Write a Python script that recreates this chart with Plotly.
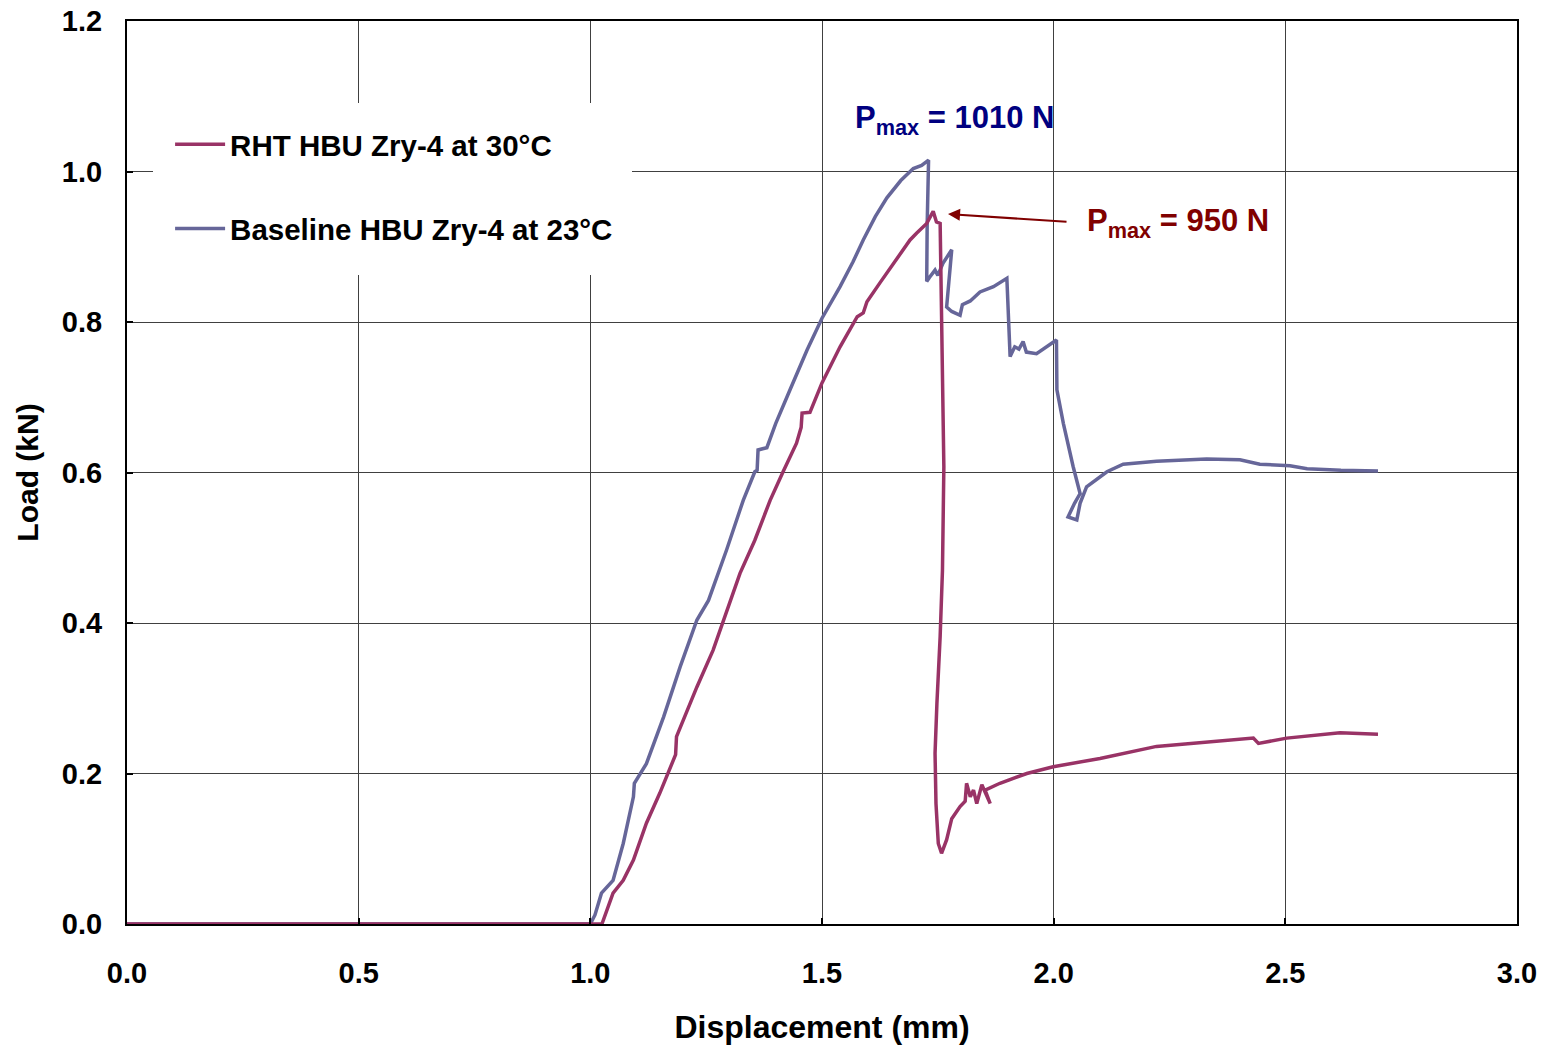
import plotly.graph_objects as go

# Baseline HBU Zry-4 at 23°C (displacement mm, load kN)
base_x = [0.0, 1.0, 1.01, 1.024, 1.049, 1.071, 1.093, 1.095, 1.121, 1.158, 1.194, 1.23, 1.255,
          1.294, 1.33, 1.355, 1.36, 1.362, 1.381, 1.40, 1.431, 1.468, 1.5, 1.539, 1.567, 1.589,
          1.615, 1.64, 1.67, 1.697, 1.715, 1.73, 1.727, 1.726, 1.733, 1.744, 1.75, 1.761, 1.78,
          1.769, 1.78, 1.798, 1.803, 1.82, 1.841, 1.87, 1.899, 1.902, 1.906, 1.916, 1.925,
          1.934, 1.941, 1.963, 2.006, 2.007, 2.021, 2.042, 2.057, 2.045, 2.031, 2.05, 2.057,
          2.071, 2.1, 2.115, 2.15, 2.222, 2.33, 2.402, 2.445, 2.51, 2.547, 2.62, 2.70]
base_y = [0.0, 0.0, 0.012, 0.041, 0.058, 0.107, 0.169, 0.187, 0.213, 0.275, 0.342, 0.404, 0.43,
          0.497, 0.563, 0.601, 0.603, 0.63, 0.633, 0.665, 0.71, 0.763, 0.805, 0.847, 0.88, 0.909,
          0.94, 0.965, 0.988, 1.004, 1.008, 1.015, 0.93, 0.854, 0.86, 0.869, 0.862, 0.878, 0.896,
          0.82, 0.814, 0.809, 0.823, 0.828, 0.84, 0.847, 0.858, 0.80, 0.754, 0.767, 0.764,
          0.774, 0.76, 0.758, 0.776, 0.71, 0.665, 0.608, 0.572, 0.559, 0.541, 0.537, 0.559,
          0.581, 0.594, 0.601, 0.611, 0.615, 0.618, 0.617, 0.611, 0.609, 0.605, 0.603, 0.602]

# RHT HBU Zry-4 at 30°C
rht_x = [0.0, 1.025, 1.049, 1.071, 1.093, 1.121, 1.15, 1.172, 1.184, 1.186, 1.23, 1.265,
         1.287, 1.323, 1.355, 1.388, 1.416, 1.445, 1.455, 1.457, 1.474, 1.5, 1.539, 1.576,
         1.589, 1.597, 1.625, 1.662, 1.69, 1.704, 1.726, 1.74, 1.747, 1.755, 1.756, 1.759, 1.763,
         1.76, 1.755, 1.748, 1.744, 1.746, 1.751, 1.758, 1.769, 1.78, 1.798, 1.809, 1.812, 1.82,
         1.827, 1.834, 1.845, 1.863, 1.852, 1.884, 1.942, 1.999, 2.1, 2.222, 2.33, 2.431, 2.442,
         2.503, 2.618, 2.70]
rht_y = [0.0, 0.0, 0.041, 0.058, 0.085, 0.134, 0.174, 0.209, 0.225, 0.249, 0.315, 0.364,
         0.404, 0.466, 0.51, 0.563, 0.601, 0.639, 0.66, 0.679, 0.68, 0.719, 0.767, 0.807,
         0.812, 0.827, 0.852, 0.885, 0.909, 0.918, 0.931, 0.947, 0.933, 0.931, 0.887, 0.798, 0.608,
         0.47, 0.382, 0.293, 0.227, 0.16, 0.107, 0.094, 0.112, 0.14, 0.156, 0.163, 0.187, 0.169,
         0.178, 0.16, 0.185, 0.16, 0.178, 0.187, 0.2, 0.209, 0.22, 0.236, 0.242, 0.247, 0.24,
         0.247, 0.254, 0.252]

x_ticks = [0.0, 0.5, 1.0, 1.5, 2.0, 2.5, 3.0]
y_ticks = [0.0, 0.2, 0.4, 0.6, 0.8, 1.0, 1.2]

FONT = "Liberation Sans, Arial, sans-serif"
RED = "#993366"
BLUE = "#666699"

fig = go.Figure()
fig.add_trace(go.Scatter(x=base_x, y=base_y, mode="lines", name="Baseline HBU Zry-4 at 23°C",
                         line=dict(color=BLUE, width=3.5), legendgroup="b", legendrank=2))
fig.add_trace(go.Scatter(x=rht_x, y=rht_y, mode="lines", name="RHT HBU Zry-4 at 30°C",
                         line=dict(color=RED, width=3.5), legendgroup="a", legendrank=1))

axis_common = dict(showline=True, linecolor="black", linewidth=2, mirror=True,
                   showgrid=True, gridcolor="#404040", gridwidth=1, zeroline=False,
                   ticks="inside", ticklen=6, tickwidth=2, tickcolor="black",
                   automargin=False,
                   tickfont=dict(family=FONT, size=29, color="black", weight="bold"))

fig.update_layout(
    width=1549, height=1050,
    margin=dict(l=127, r=32, t=21, b=126),
    plot_bgcolor="white", paper_bgcolor="white",
    font=dict(family=FONT, color="black"),
    xaxis=dict(range=[0, 3.0], tickvals=x_ticks, tickformat=".1f", ticklabelstandoff=22,
               title=dict(text="Displacement (mm)", standoff=28,
                          font=dict(family=FONT, size=32, color="black", weight="bold")),
               **axis_common),
    yaxis=dict(range=[0, 1.2], tickvals=y_ticks, tickformat=".1f", ticklabelstandoff=17,
               title=dict(text="Load (kN)", standoff=14,
                          font=dict(family=FONT, size=30, color="black", weight="bold")),
               **axis_common),
    legend=dict(x=0.031, y=0.892, xanchor="left", yanchor="top",
                bgcolor="rgba(0,0,0,0)", traceorder="grouped", tracegroupgap=43,
                itemwidth=50,
                font=dict(family=FONT, size=29.5, color="black", weight="bold")),
    shapes=[dict(type="rect", xref="paper", yref="paper", layer="above",
                 x0=(153 - 127) / 1390, x1=(632 - 127) / 1390,
                 y0=(924 - 275) / 903, y1=(924 - 103) / 903,
                 fillcolor="white", line=dict(width=0))],
    annotations=[
        dict(x=1.787, y=1.068, xref="x", yref="y", showarrow=False,
             text="P<sub>max</sub> = 1010 N",
             font=dict(family=FONT, size=31, color="#000080", weight="bold")),
        dict(x=2.268, y=0.9315, xref="x", yref="y", showarrow=False,
             text="P<sub>max</sub> = 950 N",
             font=dict(family=FONT, size=31, color="#800000", weight="bold")),
        dict(x=1.772, y=0.9435, xref="x", yref="y", ax=2.031, ay=0.933,
             axref="x", ayref="y", text="", showarrow=True, arrowhead=2,
             arrowsize=1.2, arrowwidth=2, arrowcolor="#800000"),
    ],
)

fig.write_html("out.html")
